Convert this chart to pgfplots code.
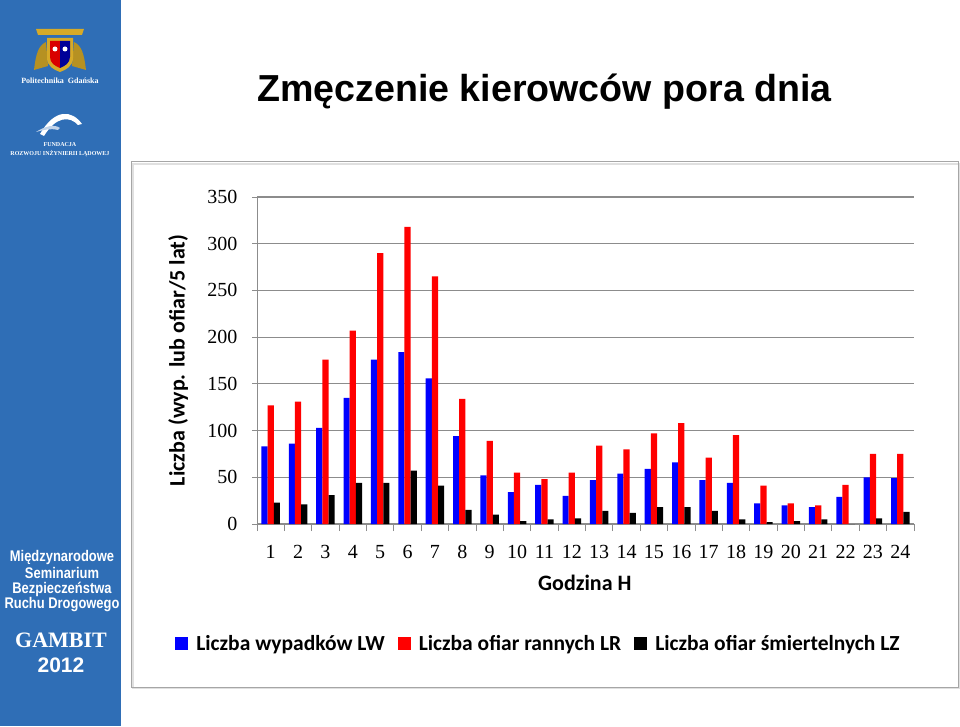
\documentclass[border=0pt]{standalone}
\usepackage{pgfplots}
\pgfplotsset{compat=1.18}
\usepackage{fontspec}
\setmainfont{Liberation Sans}
\newfontfamily\carlito{Carlito}
\newfontfamily\serifnum{Liberation Serif}
\newfontfamily\tnr{Liberation Serif}
\definecolor{side}{RGB}{47,110,182}
\definecolor{gridc}{RGB}{140,140,140}
\definecolor{gold}{RGB}{214,170,40}
\begin{document}
\begin{tikzpicture}
\begin{scope}[x=1pt,y=1pt]
% canvas
\fill[white] (0,0) rectangle (960,726);
% sidebar
\fill[side] (0,0) rectangle (121,726);
% emblem (approximation)
\fill[gold] (38,691) -- (82,691) -- (84,697) -- (36,697) -- cycle;
\fill[gold!85!black] (34,656) .. controls (36,672) and (38,680) .. (46,684) -- (48,660) -- cycle;
\fill[gold!85!black] (86,656) .. controls (84,672) and (82,680) .. (74,684) -- (72,660) -- cycle;
\fill[gold] (47,688) -- (73,688) -- (73,668) .. controls (73,660) and (66,656) .. (60,654) .. controls (54,656) and (47,660) .. (47,668) -- cycle;
\fill[red!85!black] (50,685) -- (60,685) -- (60,658) .. controls (55,660) and (50,663) .. (50,669) -- cycle;
\fill[blue!60!black] (60,685) -- (70,685) -- (70,669) .. controls (70,663) and (65,660) .. (60,658) -- cycle;
\fill[white] (55,677) circle (2.5);
\fill[white] (65,677) circle (2.5);
\node[white,font=\tnr\bfseries\fontsize{8}{9}\selectfont] at (60,645) {Politechnika\ \ Gdańska};
% arc logo
\fill[white] (40,592) .. controls (55,618) and (72,616) .. (82,602) -- (78,601) .. controls (70,610) and (56,610) .. (44,590) -- cycle;
\fill[white!70!side] (36,594) .. controls (45,600) and (55,602) .. (60,598) -- (58,596) .. controls (50,598) and (44,596) .. (36,594);
\node[white,font=\tnr\bfseries\fontsize{6}{7}\selectfont] at (60,581) {FUNDACJA};
\node[white,font=\tnr\bfseries\fontsize{6}{7}\selectfont] at (60,572) {ROZWOJU INŻYNIERII LĄDOWEJ};
% bottom sidebar text
\node[white,font=\bfseries\fontsize{15.4}{16}\selectfont,xscale=0.84,transform shape,inner sep=0pt] at (62,168.3) {Międzynarodowe};
\node[white,font=\bfseries\fontsize{15.4}{16}\selectfont,xscale=0.84,transform shape,inner sep=0pt] at (62,152.7) {Seminarium};
\node[white,font=\bfseries\fontsize{15.4}{16}\selectfont,xscale=0.84,transform shape,inner sep=0pt] at (62,137) {Bezpieczeństwa};
\node[white,font=\bfseries\fontsize{15.4}{16}\selectfont,xscale=0.84,transform shape,inner sep=0pt] at (62,121) {Ruchu Drogowego};
\node[white,font=\tnr\bfseries\fontsize{22}{23}\selectfont,inner sep=0pt] at (61,86) {GAMBIT};
\node[white,font=\bfseries\fontsize{21}{22}\selectfont,inner sep=0pt] at (61,61) {2012};
% title
\node[anchor=base west,inner sep=0pt,font=\bfseries\fontsize{37.6}{42}\selectfont] at (257,624) {Zmęczenie kierowców pora dnia};
% chart frame
\draw[line width=2pt,draw=black!12] (132.5,561.5) rectangle (959,38);
\draw[line width=1pt,draw=black!35] (131,564) rectangle (958,39);
\end{scope}
\begin{axis}[
  at={(257pt,202pt)}, anchor=south west,
  scale only axis, width=657pt, height=327pt,
  xmin=0.5, xmax=24.5, ymin=0, ymax=350,
  ybar=0pt, bar width=6.2pt,
  axis x line*=bottom, axis y line*=left,
  x axis line style={-,draw=gridc,line width=1pt},
  y axis line style={-,draw=gridc,line width=1pt},
  xtick={1,...,24}, minor xtick={0.5,1.5,...,24.5},
  ytick={0,50,...,350},
  tick align=outside,
  major x tick style={draw=none},
  minor x tick style={draw=gridc,line width=1pt},
  minor tick length=7pt,
  major y tick style={draw=gridc,line width=1pt},
  major tick length=5pt,
  ymajorgrids, grid style={draw=gridc,line width=1.2pt},
  /pgf/number format/assume math mode=true,
  ticklabel style={font=\serifnum\fontsize{20}{22}\selectfont},
  xticklabel style={anchor=north,yshift=-13pt},
  yticklabel style={xshift=-11pt},
  xlabel={Godzina H}, ylabel={Liczba (wyp. lub ofiar/5 lat)},
  label style={font=\carlito\bfseries\fontsize{22}{24}\selectfont},
  x label style={at={(axis description cs:0.499,-0.18)},anchor=center},
  y label style={at={(axis description cs:-0.12,0.5)},anchor=center},
  legend columns=3,
  legend image code/.code={\fill[#1] (0pt,-6.5pt) rectangle (13pt,6.5pt); \path (19pt,0pt);},
  legend style={draw=none,fill=none,at={(axis description cs:0.4285,-0.365)},anchor=center,
    font=\carlito\bfseries\fontsize{21.5}{23}\selectfont,
    /tikz/every even column/.append style={column sep=11pt}},
]
\addplot[fill=blue,draw=none] coordinates {(1,83) (2,86) (3,103) (4,135) (5,176) (6,184) (7,156) (8,94) (9,52) (10,34) (11,42) (12,30) (13,47) (14,54) (15,59) (16,66) (17,47) (18,44) (19,22) (20,20) (21,18) (22,29) (23,50) (24,49)};
\addplot[fill=red,draw=none] coordinates {(1,127) (2,131) (3,176) (4,207) (5,290) (6,318) (7,265) (8,134) (9,89) (10,55) (11,48) (12,55) (13,84) (14,80) (15,97) (16,108) (17,71) (18,95) (19,41) (20,22) (21,20) (22,42) (23,75) (24,75)};
\addplot[fill=black,draw=none] coordinates {(1,23) (2,21) (3,31) (4,44) (5,44) (6,57) (7,41) (8,15) (9,10) (10,3) (11,5) (12,6) (13,14) (14,12) (15,18) (16,18) (17,14) (18,5) (19,2) (20,3) (21,5) (22,0) (23,6) (24,13)};
\legend{Liczba wypadków LW, Liczba ofiar rannych LR, Liczba ofiar śmiertelnych LZ}
\end{axis}
\end{tikzpicture}
\end{document}
